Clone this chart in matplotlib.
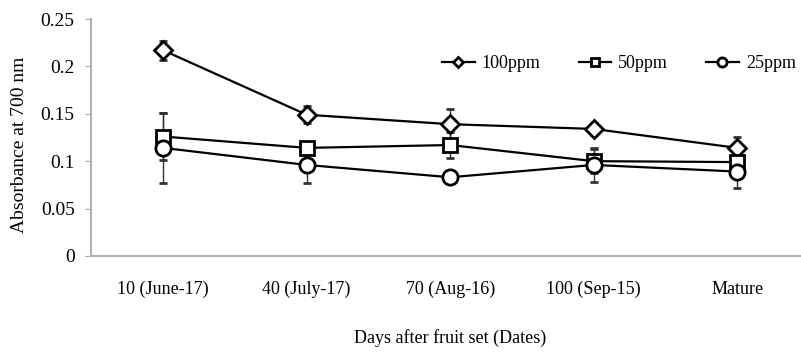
import matplotlib
matplotlib.use("Agg")
import matplotlib.pyplot as plt
from matplotlib.lines import Line2D
import numpy as np

plt.rcParams["font.family"] = ["Liberation Serif", "DejaVu Serif"]

days = ["10 (June-17)", "40 (July-17)", "70 (Aug-16)", "100 (Sep-15)", "Mature"]
ppm100 = [0.217, 0.149, 0.139, 0.134, 0.114]
ppm100_err = [0.010, 0.009, 0.016, 0.006, 0.011]
ppm50 = [0.126, 0.114, 0.117, 0.100, 0.099]
ppm50_err = [0.025, 0.004, 0.014, 0.013, 0.006]
ppm25 = [0.114, 0.096, 0.083, 0.096, 0.089]
ppm25_err = [0.037, 0.019, 0.005, 0.018, 0.017]

x = np.arange(len(days))
fig, ax = plt.subplots(figsize=(8.01, 3.52), dpi=100)
fig.subplots_adjust(left=0.114, right=1.01, top=0.946, bottom=0.273)

series = [(ppm100, ppm100_err, "D", 9, "100ppm"),
          (ppm50, ppm50_err, "s", 10, "50ppm"),
          (ppm25, ppm25_err, "o", 11, "25ppm")]
handles = []
for vals, err, mk, ms, lab in series:
    ax.errorbar(x, vals, yerr=err, color="black", lw=1.6, marker=mk, ms=ms,
                mfc="white", mec="black", mew=2, ecolor="#333333",
                elinewidth=1, capsize=3)
    handles.append(Line2D([], [], color="black", lw=1.6, marker=mk, ms=ms * 0.6,
                          mfc="white", mec="black", mew=2, label=lab))

ax.set_xlim(-0.5, 4.5)
ax.set_ylim(0, 0.25)
ax.set_yticks([0, 0.05, 0.1, 0.15, 0.2, 0.25])
ax.set_yticklabels(["0", "0.05", "0.1", "0.15", "0.2", "0.25"])
ax.set_xticks(x)
ax.set_xticklabels(days)
ax.tick_params(axis="x", length=0, pad=18, labelsize=13)
ax.tick_params(axis="y", length=4, color="#aaaaaa", labelsize=14, pad=8)
for s in ["top", "right"]:
    ax.spines[s].set_visible(False)
for s in ["left", "bottom"]:
    ax.spines[s].set_color("#b0b0b0")
    ax.spines[s].set_linewidth(1.5)

ax.set_ylabel("Absorbance at 700 nm", fontsize=14)
ax.yaxis.set_label_coords(-0.088, 0.468)
ax.set_xlabel("Days after fruit set (Dates)", fontsize=13, labelpad=22)

ax.legend(handles=handles, loc="upper left", bbox_to_anchor=(0.466, 0.915), ncol=3,
          frameon=False, fontsize=13, handlelength=1.8, columnspacing=2.1,
          handletextpad=0.4)

fig.savefig("out.png", dpi=100)
